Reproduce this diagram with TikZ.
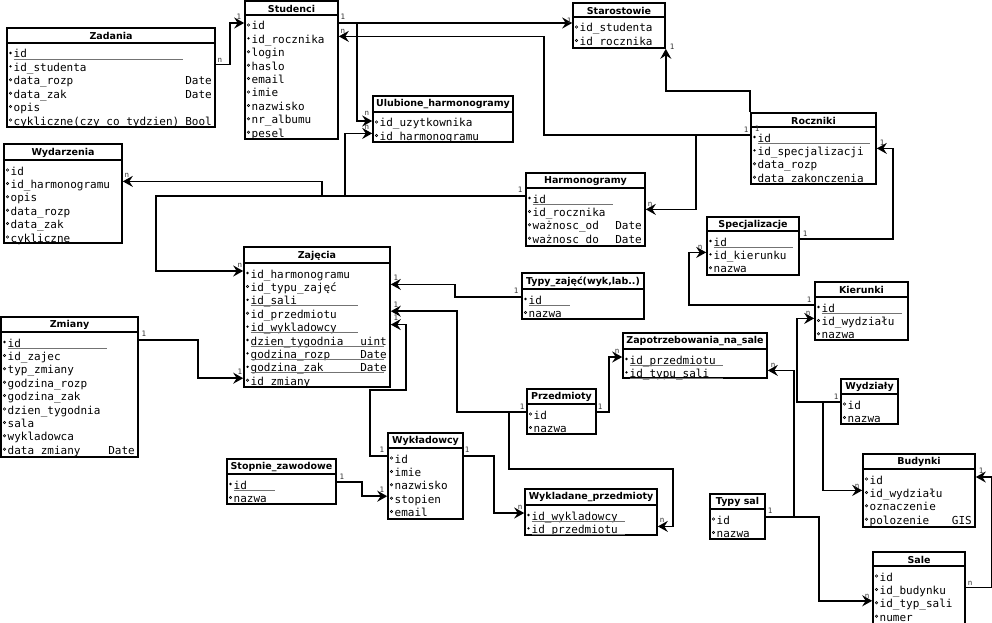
\documentclass[tikz,border=0pt]{standalone}
\usepackage{fontspec}
\newfontfamily\monof{DejaVu Sans Mono}
\newfontfamily\titlefam{DejaVu Sans}
\usetikzlibrary{arrows.meta,fit,calc}
\tikzset{
  rowt/.style={font=\monof\fontsize{11}{13}\selectfont, inner sep=0pt, text height=14pt, text depth=0pt},
  ttl/.style={font=\titlefam\bfseries\fontsize{9.5}{11}\selectfont, inner sep=0pt},
  ebox/.style={draw=black, line width=1.6pt, inner sep=0pt},
  ul/.style={draw=black!55, line width=0.7pt},
  conn/.style={line width=1.6pt, -{Stealth[length=10pt,width=11pt,inset=3.5pt]}},
  lbl/.style={font=\monof\fontsize{7.5}{8}\selectfont, inner sep=0pt, text=black!80}
}
% #1 name, #2 x1, #3 y1, #4 x2, #5 y2, #6 title bottom, #7 title, #8 rows
\newcommand\entity[8]{%
  \coordinate (#1nw) at (#2,#3);
  \coordinate (#1se) at (#4,#5);
  \node[ebox, fit=(#1nw)(#1se)] (#1) {};
  \node[ttl] (#1t) at ({(#2+#4)/2},{(#3+#6)/2+0.5}) {#7};
  \draw[line width=1.6pt] (#2,#6) -- (#4,#6);
  \foreach \m/\t/\ty/\u [count=\k] in {#8} {
    \pgfmathsetmacro\ry{#6+8+13.4*(\k-1)}
    \node[rowt, anchor=west] (#1\k) at (#2+6.5,\ry) {\t};
    \ifnum\m=1 \fill (#2+3.5,\ry+2) circle (1.3); \else \draw[line width=0.6pt] (#2+3.5,\ry+2) circle (1.2); \fi
    \node[rowt, anchor=east] at (#4-3,\ry) {\ty};
    \ifnum\u>0 \draw[ul] (#2+6.5,\ry+8) -- (\u,\ry+8); \fi
  }
}
\begin{document}
\begin{tikzpicture}[x=1pt,y=-1pt]
\fill[white] (0,0) rectangle (992,623);
\useasboundingbox (0,0) rectangle (992,623);

\entity{zad}{7}{28}{215}{127}{43}{Zadania}{1/id/{}/183, 1/id\_studenta/{}/0, 0/data\_rozp/Date/0, 0/data\_zak/Date/0, 0/opis/{}/0, 0/cykliczne(czy\_co\_tydzien)/Bool/0}
\entity{stu}{245}{1}{338}{139}{15}{Studenci}{0/id/{}/0, 1/id\_rocznika/{}/0, 0/login/{}/0, 0/haslo/{}/0, 0/email/{}/0, 0/imie/{}/0, 0/nazwisko/{}/0, 0/nr\_albumu/{}/0, 0/pesel/{}/0}
\entity{wyd}{4}{144}{122}{243}{160}{Wydarzenia}{0/id/{}/0, 0/id\_harmonogramu/{}/0, 0/opis/{}/0, 0/data\_rozp/{}/0, 0/data\_zak/{}/0, 0/cykliczne/{}/0}
\entity{sta}{573}{3}{665}{48}{17}{Starostowie}{0/id\_studenta/{}/0, 0/id\_rocznika/{}/0}
\entity{ulu}{373}{96}{513}{142}{112}{Ulubione\_harmonogramy}{0/id\_uzytkownika/{}/0, 0/id\_harmonogramu/{}/0}
\entity{har}{526}{173}{645}{246}{188}{Harmonogramy}{1/id/{}/613, 0/id\_rocznika/{}/0, 0/ważnosc\_od/Date/0, 0/ważnosc\_do/Date/0}
\entity{roc}{751}{113}{876}{184}{127}{Roczniki}{1/id/{}/870, 1/id\_specjalizacji/{}/0, 0/data\_rozp/{}/0, 0/data\_zakonczenia/{}/0}
\entity{spe}{707}{217}{799}{275}{231}{Specjalizacje}{1/id/{}/793, 1/id\_kierunku/{}/0, 0/nazwa/{}/0}
\entity{kie}{815}{282}{908}{340}{297}{Kierunki}{1/id/{}/902, 0/id\_wydziału/{}/0, 0/nazwa/{}/0}
\entity{wdz}{841}{379}{898}{424}{394}{Wydziały}{0/id/{}/0, 0/nazwa/{}/0}
\entity{bud}{863}{454}{975}{527}{469}{Budynki}{0/id/{}/0, 0/id\_wydziału/{}/0, 0/oznaczenie/{}/0, 0/polozenie/GIS/0}
\entity{sal}{873}{552}{965}{627}{566}{Sale}{0/id/{}/0, 0/id\_budynku/{}/0, 0/id\_typ\_sali/{}/0, 0/numer/{}/0}
\entity{tsal}{710}{494}{765}{539}{509}{Typy sal}{0/id/{}/0, 0/nazwa/{}/0}
\entity{zap}{623}{333}{767}{378}{349}{Zapotrzebowania\_na\_sale}{1/id\_przedmiotu/{}/723, 1/id\_typu\_sali/{}/723}
\entity{tzaj}{522}{273}{644}{319}{289}{Typy\_zajęć(wyk,lab..)}{1/id/{}/570, 0/nazwa/{}/0}
\entity{prz}{527}{389}{596}{434}{404}{Przedmioty}{0/id/{}/0, 0/nazwa/{}/0}
\entity{zaj}{244}{247}{390}{387}{263}{Zajęcia}{1/id\_harmonogramu/{}/0, 0/id\_typu\_zajęć/{}/0, 1/id\_sali/{}/358, 0/id\_przedmiotu/{}/0, 1/id\_wykladowcy/{}/358, 1/dzien\_tygodnia/uint/384, 1/godzina\_rozp/Date/384, 1/godzina\_zak/Date/384, 0/id\_zmiany/{}/0}
\entity{zmi}{1}{317}{138}{457}{332}{Zmiany}{1/id/{}/107, 0/id\_zajec/{}/0, 0/typ\_zmiany/{}/0, 0/godzina\_rozp/{}/0, 0/godzina\_zak/{}/0, 0/dzien\_tygodnia/{}/0, 0/sala/{}/0, 0/wykladowca/{}/0, 0/data\_zmiany/Date/0}
\entity{sto}{227}{459}{336}{504}{474}{Stopnie\_zawodowe}{1/id/{}/275, 0/nazwa/{}/0}
\entity{wyk}{388}{433}{463}{519}{448}{Wykładowcy}{0/id/{}/0, 0/imie/{}/0, 0/nazwisko/{}/0, 0/stopien/{}/0, 0/email/{}/0}
\entity{wpr}{525}{489}{657}{535}{505}{Wykladane\_przedmioty}{1/id\_wykladowcy/{}/625, 1/id\_przedmiotu/{}/625}

% connectors
\draw[conn] (zad.east |- zad2) -- ++(14,0) |- (stu.west |- stu1);
\draw[conn] (stu.east |- stu1) -- ++(122,0) |- ([yshift=2pt]sta.west |- sta1);
\draw[conn] (stu.east |- stu1) -- ++(18,0) |- ([yshift=-1pt]ulu.west |- ulu1);
\draw[conn] (roc.west |- roc1) -- ++(-206,0) |- (stu.east |- stu2);
\draw[conn] (roc.west |- roc1) -- ++(-54,0) |- (har.east |- har2);
\draw[conn] (roc.north west) -- ++(0,-21) -| (sta.south east);
\draw[conn] (spe.east |- spe1) -- ++(93,0) |- (roc.east |- roc2);
\draw[conn] (kie.west |- kie1) -- ++(-125,0) |- (spe.west |- spe2);
\draw[conn] (wdz.west |- wdz1) -- ++(-43,0) |- (kie.west |- kie2);
\draw[conn] (wdz.west |- wdz1) -- ++(-17,0) |- (bud.west |- bud2);
\draw[conn] (tsal.east |- tsal1) -- ++(28,0) |- (zap.east |- zap2);
\draw[conn] (tsal.east |- tsal1) -- ++(53,0) |- (sal.west |- sal3);
\draw[conn] (sal.east |- sal2) -- ++(26,0) |- (bud.east |- bud1);
\draw[conn] (har.west |- har1) -- ++(-369,0) |- (zaj.west |- zaj1);
\draw[conn] (har.west |- har1) -- ++(-203,0) |- (wyd.east |- wyd2);
\draw[conn] (har.west |- har1) -- ++(-180,0) |- (ulu.west |- ulu2);
\draw[conn] (tzaj.west |- tzaj1) -- ++(-66,0) |- (zaj.east |- zaj2);
\draw[conn] (prz.west |- prz1) -- ++(-69,0) |- (zaj.east |- zaj4);
\draw[conn] (wyk.west |- wyk1) -- ++(-17,0) |- (406,390) |- (zaj.east |- zaj5);
\draw[conn] (prz.east |- prz1) -- ++(12,0) |- (zap.west |- zap1);
\draw[conn] (prz.west |- prz1) -- ++(-17,0) |- (673,469) |- (wpr.east |- wpr2);
\draw[conn] (wyk.east |- wyk1) -- ++(30,0) |- (wpr.west |- wpr1);
\draw[conn] (sto.east |- sto1) -- ++(25,0) |- (wyk.west |- wyk4);
\draw[conn] (zmi.east |- zmi1) -- ++(59,0) |- (zaj.west |- zaj9);

% cardinality labels
\node[lbl] (l1) at (220,60) {n};
\node[lbl] (l2) at (239,17) {1};
\node[lbl] (l3) at (343,17) {1};
\node[lbl] (l4) at (569,21) {1};
\node[lbl] (l5) at (367,113) {n};
\node[lbl] (l6) at (746,130) {1};
\node[lbl] (l7) at (343,31) {n};
\node[lbl] (l8) at (650,204) {n};
\node[lbl] (l9) at (757,129) {1};
\node[lbl] (l10) at (672,47) {1};
\node[lbl] (l11) at (805,234) {1};
\node[lbl] (l12) at (882,143) {1};
\node[lbl] (l13) at (809,300) {1};
\node[lbl] (l14) at (700,247) {n};
\node[lbl] (l15) at (836,397) {1};
\node[lbl] (l16) at (808,313) {n};
\node[lbl] (l17) at (857,486) {n};
\node[lbl] (l18) at (770,511) {1};
\node[lbl] (l19) at (773,365) {n};
\node[lbl] (l20) at (867,596) {n};
\node[lbl] (l21) at (970,583) {n};
\node[lbl] (l22) at (981,471) {1};
\node[lbl] (l23) at (520,190) {1};
\node[lbl] (l24) at (240,265) {n};
\node[lbl] (l25) at (127,175) {n};
\node[lbl] (l26) at (367,127) {n};
\node[lbl] (l27) at (516,291) {1};
\node[lbl] (l28) at (396,278) {1};
\node[lbl] (l29) at (522,407) {1};
\node[lbl] (l30) at (396,305) {1};
\node[lbl] (l31) at (382,450) {1};
\node[lbl] (l32) at (396,318) {1};
\node[lbl] (l33) at (600,407) {1};
\node[lbl] (l34) at (617,351) {n};
\node[lbl] (l35) at (662,520) {n};
\node[lbl] (l36) at (467,450) {1};
\node[lbl] (l37) at (520,507) {n};
\node[lbl] (l38) at (342,477) {1};
\node[lbl] (l39) at (382,490) {1};
\node[lbl] (l40) at (144,334) {1};
\node[lbl] (l41) at (240,372) {1};
\end{tikzpicture}
\end{document}
